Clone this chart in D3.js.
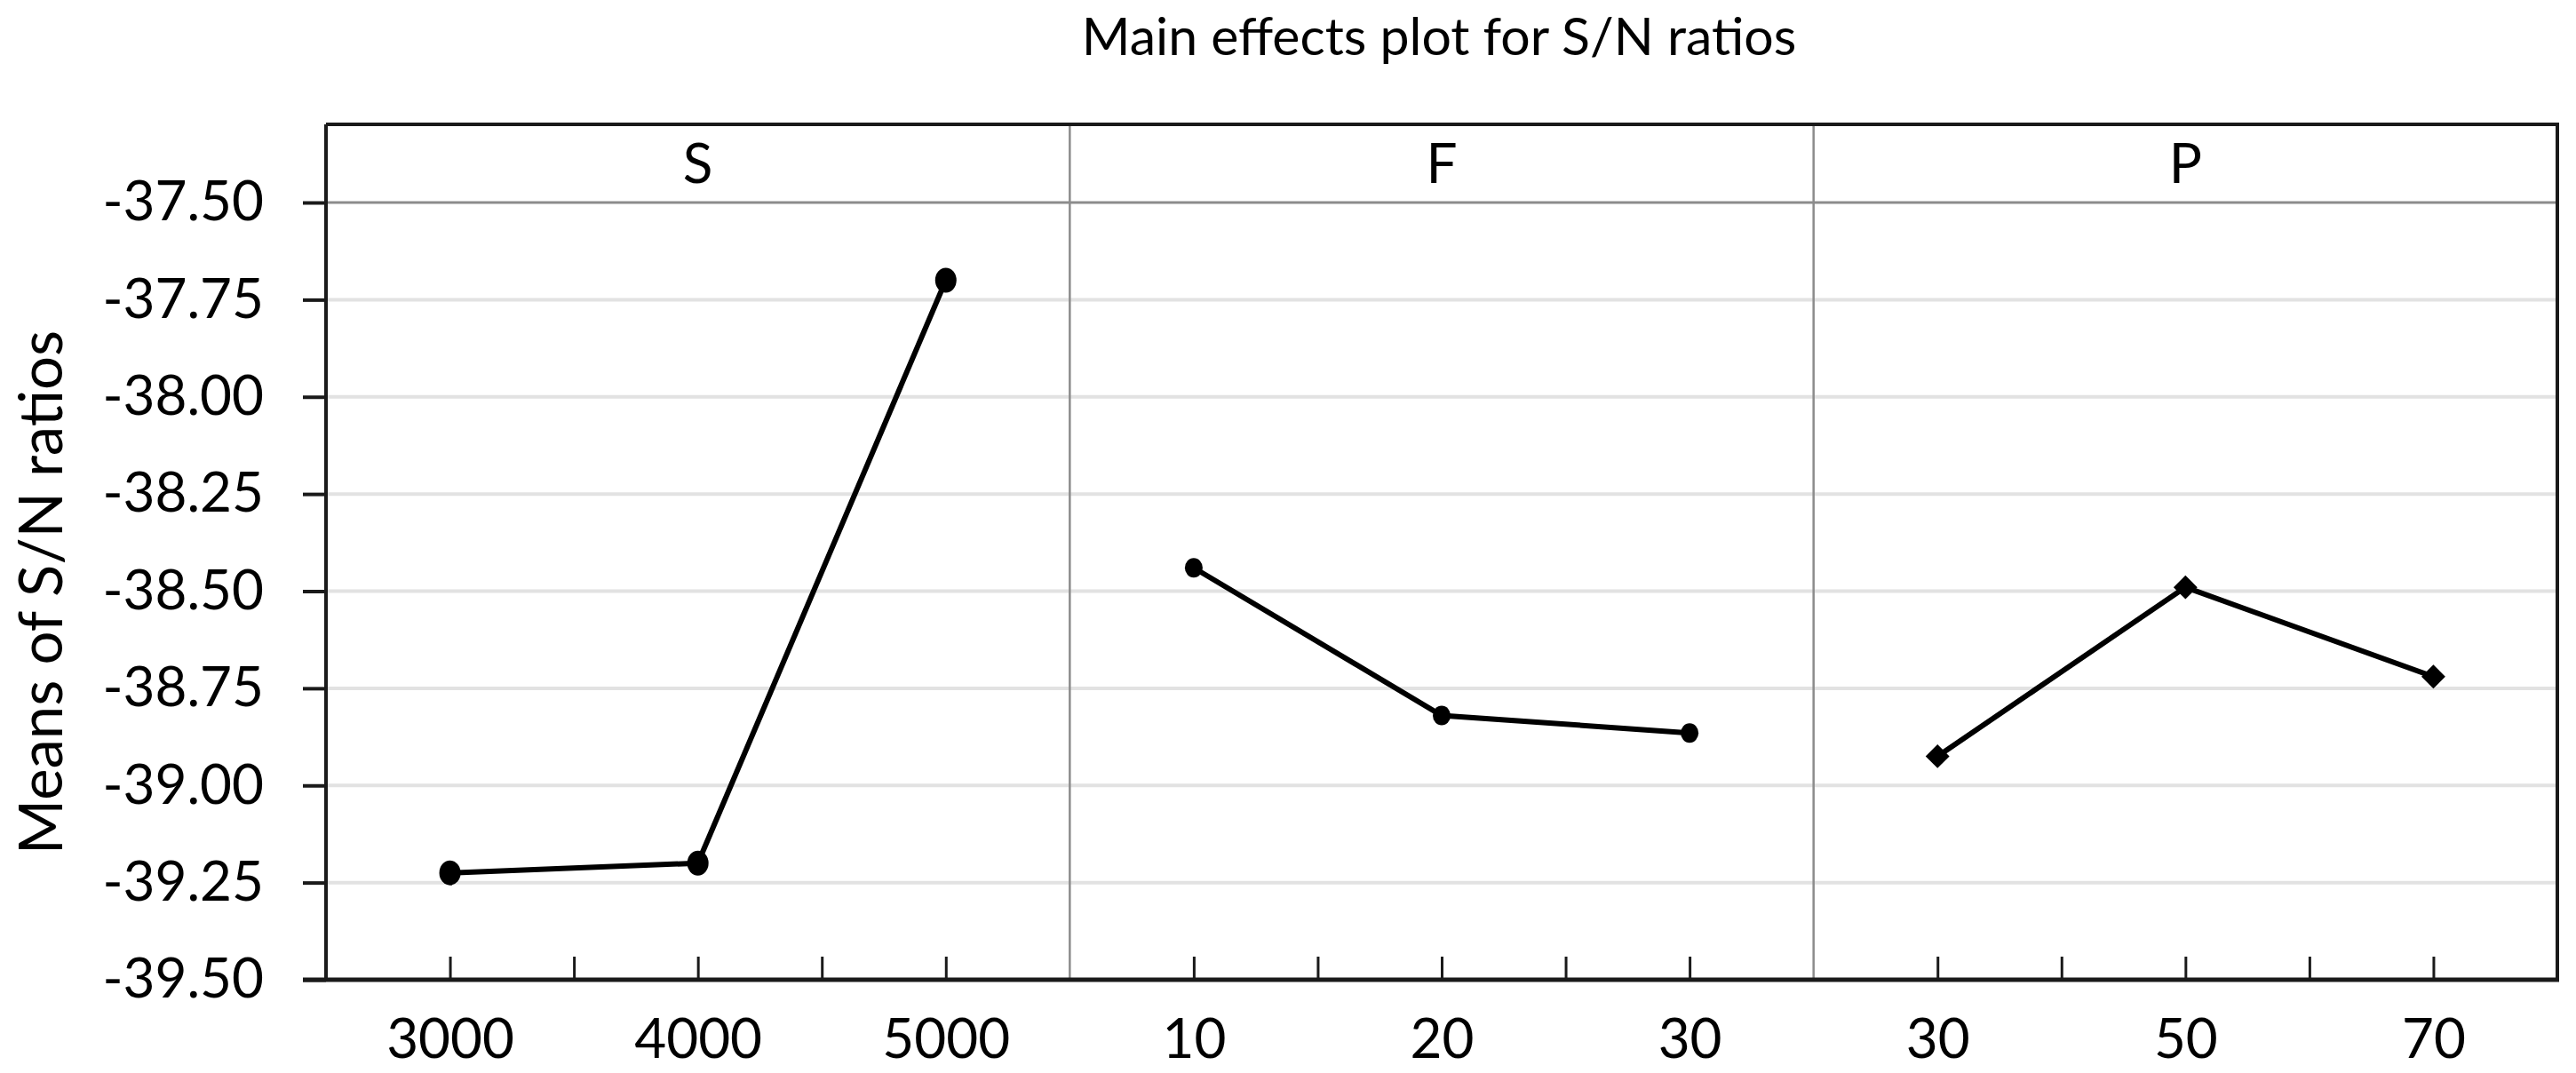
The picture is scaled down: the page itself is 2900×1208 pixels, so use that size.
<!DOCTYPE html>
<html>
<head>
<meta charset="utf-8">
<script src="https://cdn.jsdelivr.net/npm/d3@7"></script>
<style>
	body { margin: 0; background: #fff; }
	text { font-family: Lato, "Open Sans", sans-serif; fill: #000; }
</style>
</head>
<body>
<div id="chart"></div>
<script>
	// data
	var factors = ["S", "F", "P"];
	var sLevels = ["3000", "4000", "5000"];
	var sMeans  = [-39.225, -39.20, -37.70];
	var fLevels = ["10", "20", "30"];
	var fMeans  = [-38.44, -38.82, -38.865];
	var pLevels = ["30", "50", "70"];
	var pMeans  = [-38.925, -38.49, -38.72];
	var yTicks  = [-37.50, -37.75, -38.00, -38.25, -38.50, -38.75, -39.00, -39.25, -39.50];
	var markers = ["circle", "smallcircle", "diamond"];

	var W = 2900, H = 1208;
	// note: "top" is taken by window.top, so plotTop
	var plotLeft = 367, plotRight = 2879, plotTop = 140, stripBottom = 228, plotBottom = 1103;
	var panelW = (plotRight - plotLeft) / 3;

	var levels = [sLevels, fLevels, pLevels];
	var means  = [sMeans, fMeans, pMeans];

	var svg = d3.select("#chart").append("svg")
		.attr("width", W)
		.attr("height", H);

	var y = d3.scaleLinear().domain([-39.5, -37.5]).range([plotBottom, stripBottom]);

	// title
	svg.append("text")
		.attr("x", 1620)
		.attr("y", 62)
		.attr("text-anchor", "middle")
		.attr("font-size", 59)
		.text("Main effects plot for S/N ratios");

	// y label
	svg.append("text")
		.attr("transform", "translate(70,667) rotate(-90)")
		.attr("text-anchor", "middle")
		.attr("font-size", 67)
		.text("Means of S/N ratios");

	// gridlines
	svg.append("g").selectAll("line")
		.data(yTicks.filter(function(d){ return d > -39.5; }))
		.enter().append("line")
		.attr("x1", plotLeft).attr("x2", plotRight)
		.attr("y1", function(d){ return y(d); })
		.attr("y2", function(d){ return y(d); })
		.attr("stroke", function(d){ return d == -37.5 ? "#8c8c8c" : "#e2e2e2"; })
		.attr("stroke-width", function(d){ return d == -37.5 ? 3 : 4; });

	// panel dividers
	svg.append("g").selectAll("line")
		.data([1, 2])
		.enter().append("line")
		.attr("x1", function(d){ return plotLeft + d * panelW; })
		.attr("x2", function(d){ return plotLeft + d * panelW; })
		.attr("y1", plotTop).attr("y2", plotBottom)
		.attr("stroke", "#8c8c8c")
		.attr("stroke-width", 2.5);

	// top + right border
	svg.append("path")
		.attr("d", "M" + plotLeft + "," + plotTop + "H" + plotRight + "V" + plotBottom)
		.attr("fill", "none")
		.attr("stroke", "#1a1a1a")
		.attr("stroke-width", 4);

	// y axis
	var yAxis = svg.append("g")
		.attr("transform", "translate(" + plotLeft + ",0)")
		.call(d3.axisLeft(y)
			.tickValues(yTicks)
			.tickSize(26)
			.tickPadding(44)
			.tickFormat(function(d){ return d.toFixed(2); }));
	yAxis.select(".domain").attr("stroke", "#1a1a1a").attr("stroke-width", 4)
		.attr("d", "M0," + plotTop + "V" + plotBottom);
	yAxis.selectAll(".tick line").attr("stroke", "#1a1a1a").attr("stroke-width", 4);
	yAxis.selectAll(".tick text").attr("font-size", 62).attr("font-family", "Lato, sans-serif").attr("fill", "#000");

	// bottom axis line
	svg.append("line")
		.attr("x1", plotLeft - 26).attr("x2", plotRight + 2)
		.attr("y1", plotBottom).attr("y2", plotBottom)
		.attr("stroke", "#1a1a1a")
		.attr("stroke-width", 5);

	var line = d3.line();

	factors.forEach(function(f, i){
		var x0 = plotLeft + i * panelW;
		var g = svg.append("g").attr("transform", "translate(" + x0 + ",0)");
		var x = d3.scalePoint().domain(levels[i]).range([0, panelW]).padding(0.5);
		var xt = d3.scaleLinear().domain([0, 6]).range([0, panelW]);

		// strip label
		g.append("text")
			.attr("x", panelW / 2)
			.attr("y", 206)
			.attr("text-anchor", "middle")
			.attr("font-size", 62)
			.text(f);

		// inward ticks at levels and half levels
		var tk = g.append("g")
			.attr("transform", "translate(0," + plotBottom + ")")
			.call(d3.axisBottom(xt).tickValues([1, 2, 3, 4, 5]).tickSize(-26).tickFormat(""));
		tk.select(".domain").remove();
		tk.selectAll(".tick line").attr("stroke", "#1a1a1a").attr("stroke-width", 3);

		// level labels
		var lb = g.append("g")
			.attr("transform", "translate(0," + plotBottom + ")")
			.call(d3.axisBottom(x).tickSize(0).tickPadding(44));
		lb.select(".domain").remove();
		lb.selectAll(".tick text").attr("font-size", 62).attr("font-family", "Lato, sans-serif").attr("fill", "#000");

		var pts = levels[i].map(function(l, j){ return [x(l), y(means[i][j])]; });

		g.append("path")
			.attr("d", line(pts))
			.attr("fill", "none")
			.attr("stroke", "#000")
			.attr("stroke-width", 6);

		if (markers[i] == "diamond") {
			g.selectAll(".mk").data(pts).enter().append("path")
				.attr("transform", function(p){ return "translate(" + p[0] + "," + p[1] + ")"; })
				.attr("d", d3.symbol().type(d3.symbolDiamond2).size(460))
				.attr("fill", "#000");
		} else {
			g.selectAll(".mk").data(pts).enter().append("ellipse")
				.attr("cx", function(p){ return p[0]; })
				.attr("cy", function(p){ return p[1]; })
				.attr("rx", markers[i] == "circle" ? 12 : 10)
				.attr("ry", markers[i] == "circle" ? 14 : 11)
				.attr("fill", "#000");
		}
	});
</script>
</body>
</html>
